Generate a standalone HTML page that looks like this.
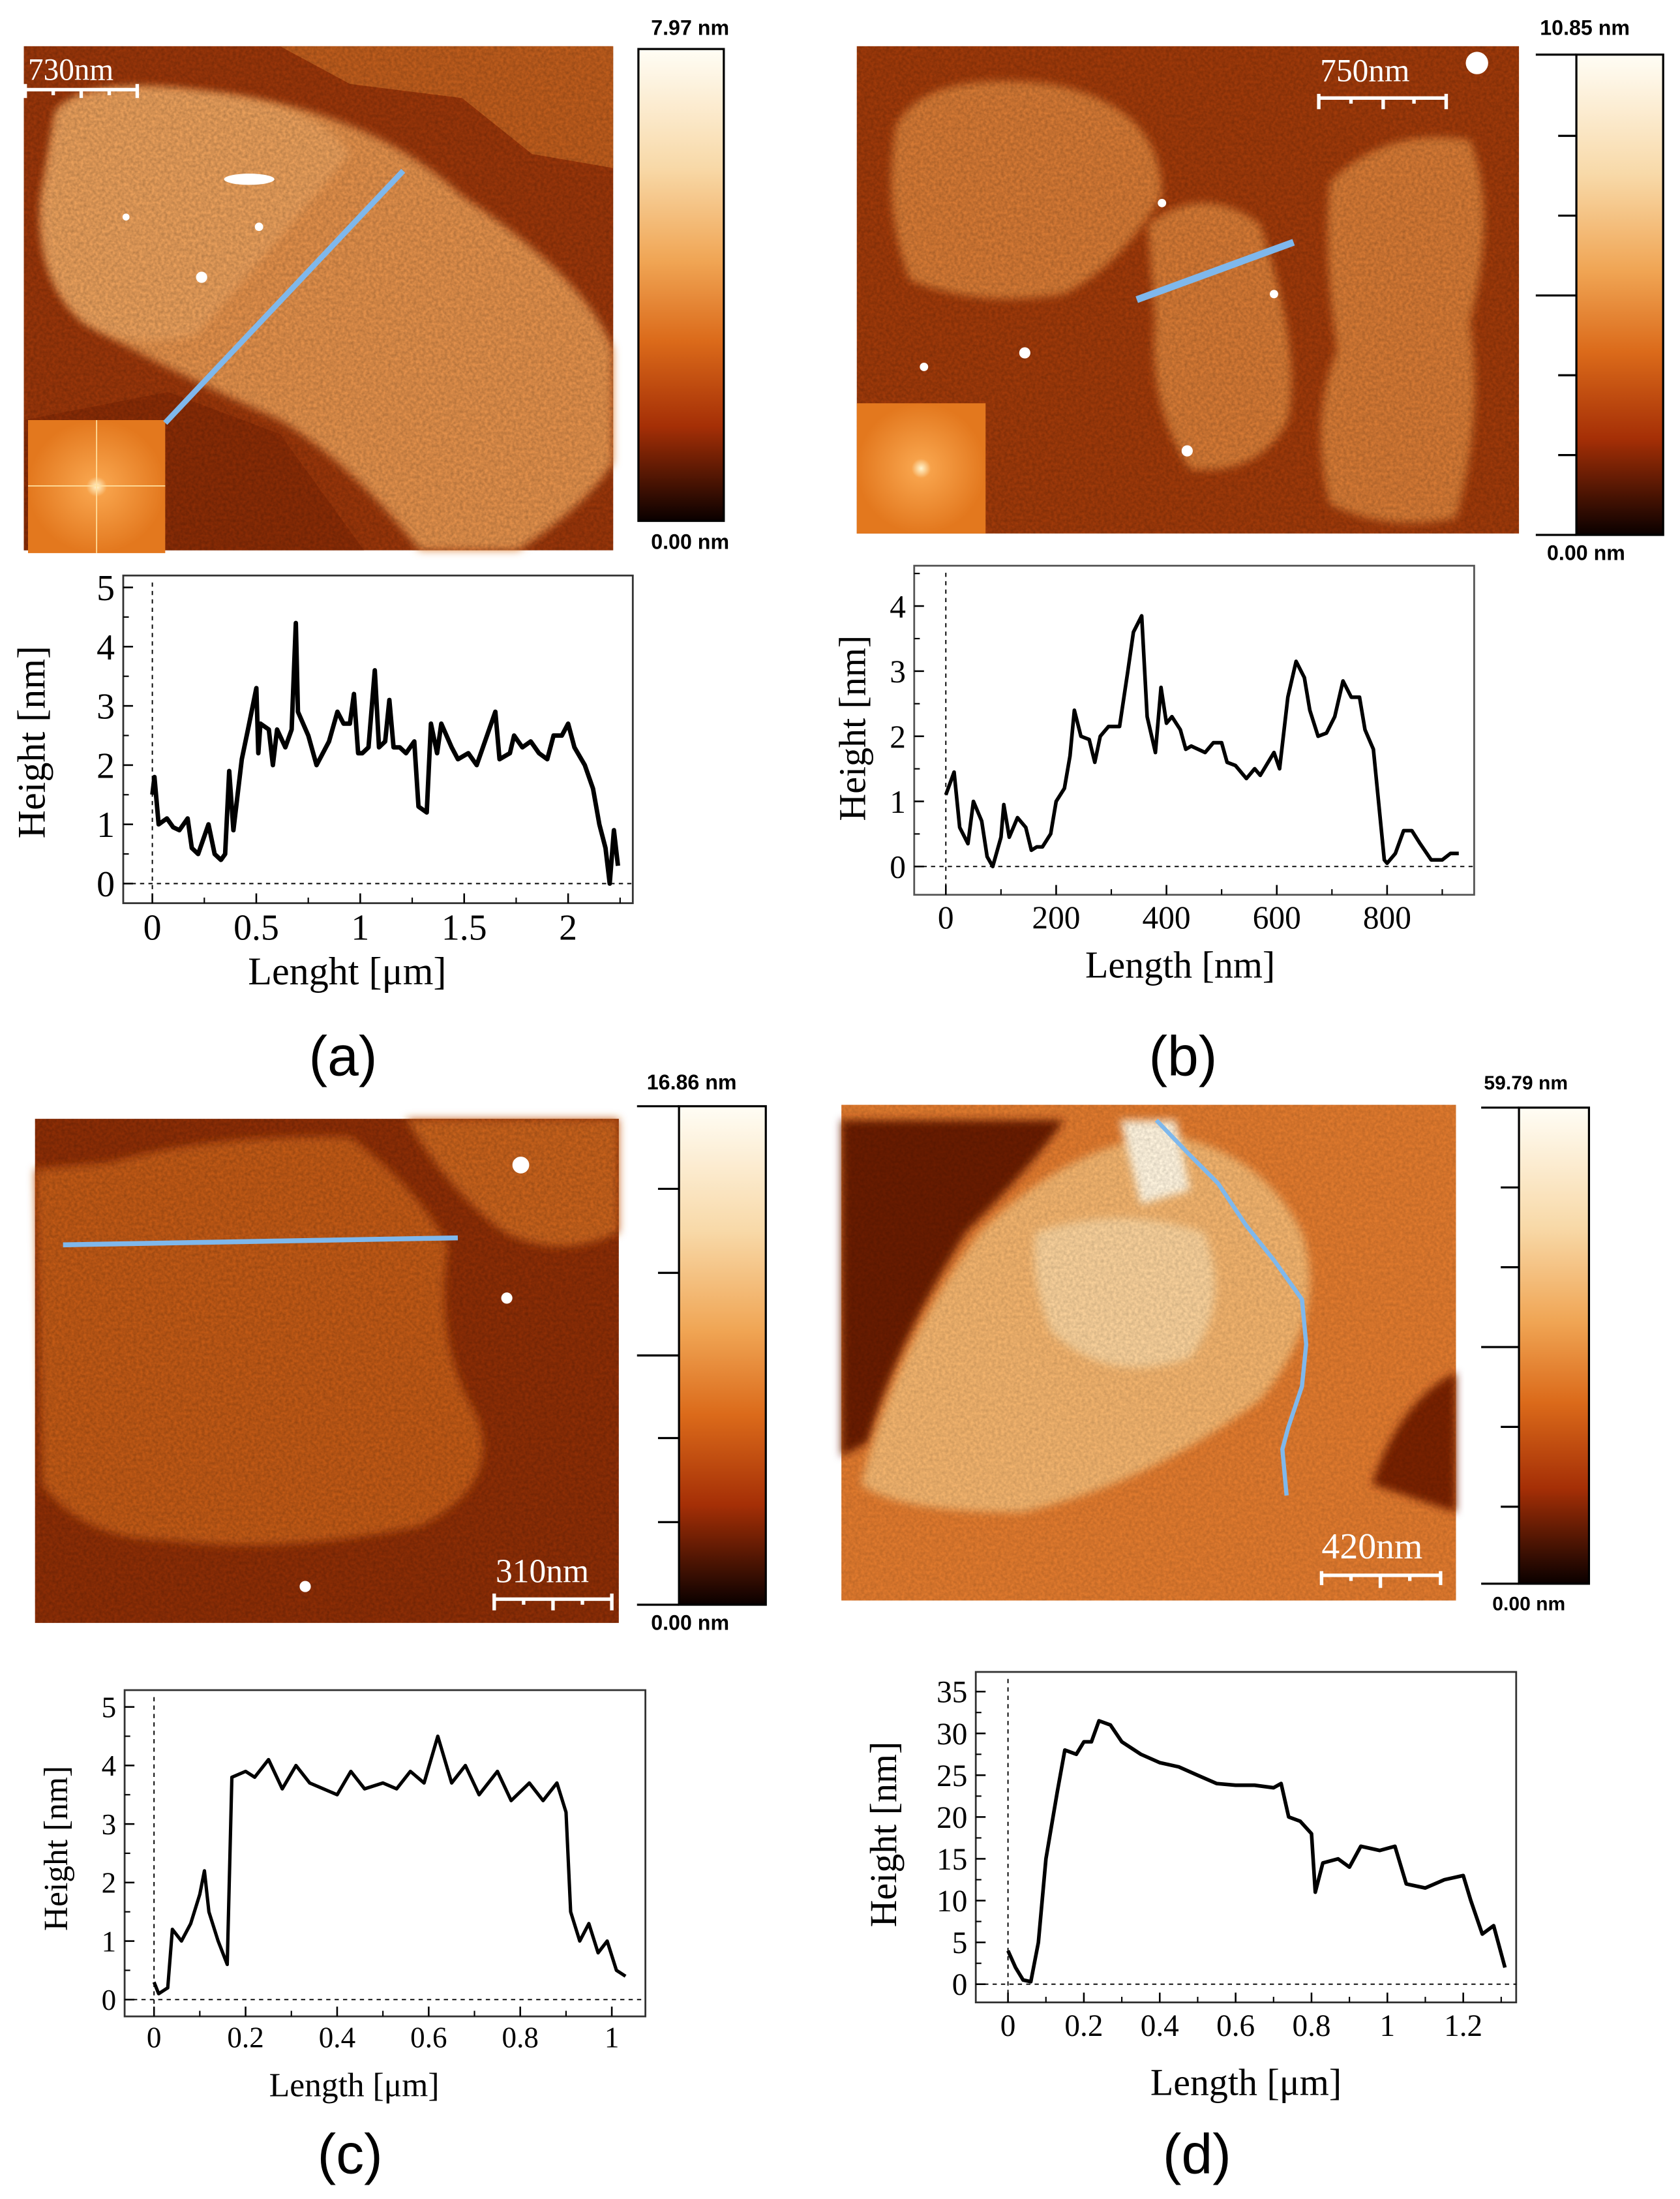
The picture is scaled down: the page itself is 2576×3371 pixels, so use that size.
<!DOCTYPE html>
<html><head><meta charset="utf-8">
<style>
html,body{margin:0;padding:0;background:#fff;}
svg{display:block;}
.tick{font-family:"Liberation Serif",serif;fill:#000;}
.cbl{font-family:"Liberation Sans",sans-serif;font-weight:bold;fill:#000;}
.sb{font-family:"Liberation Serif",serif;fill:#fff;}
.pl{font-family:"Liberation Sans",sans-serif;fill:#000;}
</style></head>
<body>
<svg id="fig" width="2576" height="3371" viewBox="0 0 1200 1570.4" xmlns="http://www.w3.org/2000/svg">
<defs>
<linearGradient id="cb" x1="0" y1="0" x2="0" y2="1">
<stop offset="0" stop-color="#fffdf5"/><stop offset="0.25" stop-color="#f8d9a8"/><stop offset="0.45" stop-color="#f0a554"/>
<stop offset="0.62" stop-color="#db6a1a"/><stop offset="0.8" stop-color="#a52f06"/><stop offset="1" stop-color="#0a0000"/>
</linearGradient>
<filter id="grain" x="0" y="0" width="1" height="1">
<feTurbulence type="fractalNoise" baseFrequency="0.45" numOctaves="2" seed="3"/>
<feColorMatrix values="0 0 0 0 0  0 0 0 0 0  0 0 0 0 0  0 0 0 0.9 -0.2"/>
<feComposite in2="SourceGraphic" operator="in"/>
</filter>
<filter id="blur3"><feGaussianBlur stdDeviation="3"/></filter>
<radialGradient id="fft" cx="0.5" cy="0.5" r="0.5"><stop offset="0" stop-color="#fff6d0"/><stop offset="0.15" stop-color="#f7a24a"/><stop offset="1" stop-color="#e3781e"/></radialGradient>
</defs>

<!-- Panel a image -->
<g>
<rect x="17" y="33" width="421" height="360" fill="#9a360a"/>
<path d="M200,33 L438,33 L438,120 L380,110 L330,70 L250,60 Z" fill="#d9782a" opacity="0.6"/>
<path d="M40,80 Q60,55 140,65 Q260,75 330,140 Q420,200 438,250 L438,330 Q420,360 370,393 L300,393 Q250,330 200,300 Q110,260 60,230 Q25,200 30,140 Z" fill="#e2904c" filter="url(#blur3)"/>
<path d="M40,80 Q60,55 140,65 Q230,75 250,110 Q200,170 140,240 Q90,250 60,230 Q25,200 30,140 Z" fill="#eda663" opacity="0.7" filter="url(#blur3)"/>
<path d="M17,300 L120,280 L200,310 L260,393 L17,393 Z" fill="#8a2c06"/>
<rect x="17" y="33" width="421" height="360" fill="#000" filter="url(#grain)" opacity="0.35"/>
<ellipse cx="178" cy="128" rx="18" ry="4" fill="#fff"/>
<circle cx="144" cy="198" r="4" fill="#fff"/><circle cx="185" cy="162" r="3" fill="#fff"/><circle cx="90" cy="155" r="2.5" fill="#fff"/>
<rect x="20" y="300" width="98" height="95" fill="url(#fft)"/>
<line x1="20" y1="347" x2="118" y2="347" stroke="#ffe0a0" stroke-width="0.8"/><line x1="69" y1="300" x2="69" y2="395" stroke="#ffe0a0" stroke-width="0.8"/>
<line x1="118" y1="302" x2="288" y2="122" stroke="#7fb8ec" stroke-width="4"/>
<g>
<text class="sb" x="20" y="57" font-size="22">730nm</text>
<path d="M18,70 L18,60 M18,64 L98,64 M98,70 L98,60 M38,64 L38,68 M58,64 L58,70 M78,64 L78,68" stroke="#fff" stroke-width="2.5" fill="none"/>
</g>
</g>
<g>
<rect x="456" y="35" width="61" height="337" fill="url(#cb)" stroke="#000" stroke-width="1.5"/>
<text class="cbl" x="465" y="25" font-size="15">7.97 nm</text>
<text class="cbl" x="465" y="392" font-size="15">0.00 nm</text>
</g>

<!-- Panel b image -->
<g>
<rect x="612" y="33" width="473" height="348" fill="#a03a0a"/>
<path d="M640,90 Q660,50 750,60 Q830,75 830,140 Q800,190 760,210 Q700,220 650,200 Q630,150 640,90 Z" fill="#d67a35" filter="url(#blur3)"/>
<path d="M820,160 Q860,130 900,160 Q930,250 920,300 Q900,340 850,335 Q820,290 825,230 Z" fill="#d67a35" filter="url(#blur3)"/>
<path d="M950,130 Q990,90 1050,100 Q1070,150 1050,230 Q1060,300 1040,370 Q990,380 950,360 Q935,300 955,250 Q945,180 950,130 Z" fill="#d67a35" filter="url(#blur3)"/>
<rect x="612" y="33" width="473" height="348" fill="#000" filter="url(#grain)" opacity="0.35"/>
<circle cx="1055" cy="45" r="8" fill="#fff"/><circle cx="732" cy="252" r="4" fill="#fff"/><circle cx="848" cy="322" r="4" fill="#fff"/><circle cx="910" cy="210" r="3" fill="#fff"/><circle cx="830" cy="145" r="3" fill="#fff"/><circle cx="660" cy="262" r="3" fill="#fff"/>
<rect x="612" y="288" width="92" height="93" fill="url(#fft)"/>
<line x1="812" y1="214" x2="924" y2="173" stroke="#7fb8ec" stroke-width="5"/>
<g>
<text class="sb" x="943" y="58" font-size="23">750nm</text>
<path d="M942,78 L942,67 M942,70 L1033,70 M1033,78 L1033,67 M965,70 L965,74 M988,70 L988,78 M1010,70 L1010,74" stroke="#fff" stroke-width="2.5" fill="none"/>
</g>
</g>
<g>
<rect x="1126" y="39" width="62" height="343" fill="url(#cb)" stroke="#000" stroke-width="1.5"/>
<path d="M1097,39 L1126,39 M1113,97 L1126,97 M1113,154 L1126,154 M1097,211 L1126,211 M1113,268 L1126,268 M1113,325 L1126,325 M1097,382 L1126,382" stroke="#000" stroke-width="1.5"/>
<text class="cbl" x="1100" y="25" font-size="15">10.85 nm</text>
<text class="cbl" x="1105" y="400" font-size="15">0.00 nm</text>
</g>

<!-- Panel c image -->
<g>
<rect x="25" y="799" width="417" height="360" fill="#8e2e06"/>
<path d="M25,835 L80,830 Q150,810 250,812 Q300,850 320,890 Q310,960 340,1010 Q360,1060 300,1090 Q200,1110 120,1100 Q60,1100 30,1060 Z" fill="#c25a18" filter="url(#blur3)"/>
<path d="M290,799 L442,799 L442,880 Q400,900 360,880 Q320,850 290,799 Z" fill="#c8621c" filter="url(#blur3)"/>
<rect x="25" y="799" width="417" height="360" fill="#000" filter="url(#grain)" opacity="0.35"/>
<circle cx="218" cy="1133" r="4" fill="#fff"/><circle cx="372" cy="832" r="6" fill="#fff"/><circle cx="362" cy="927" r="4" fill="#fff"/>
<line x1="45" y1="889" x2="327" y2="884" stroke="#7fb8ec" stroke-width="3.5"/>
<g>
<text class="sb" x="354" y="1130" font-size="24">310nm</text>
<path d="M353,1150 L353,1138 M353,1142 L437,1142 M437,1150 L437,1138 M374,1142 L374,1146 M395,1142 L395,1150 M416,1142 L416,1146" stroke="#fff" stroke-width="2.5" fill="none"/>
</g>
</g>
<g>
<rect x="485" y="790" width="62" height="356" fill="url(#cb)" stroke="#000" stroke-width="1.5"/>
<path d="M455,790 L485,790 M470,849 L485,849 M470,909 L485,909 M455,968 L485,968 M470,1027 L485,1027 M470,1087 L485,1087 M455,1146 L485,1146" stroke="#000" stroke-width="1.5"/>
<text class="cbl" x="462" y="778" font-size="15">16.86 nm</text>
<text class="cbl" x="465" y="1164" font-size="15">0.00 nm</text>
</g>

<!-- Panel d image -->
<g>
<rect x="601" y="789" width="439" height="354" fill="#e07a2e"/>
<path d="M601,800 L760,800 Q740,830 690,880 Q640,960 620,1030 L601,1040 Z" fill="#6a1a02" filter="url(#blur3)"/>
<path d="M1040,980 Q1000,1000 980,1060 L1040,1080 Z" fill="#7a2204" filter="url(#blur3)"/>
<path d="M700,880 Q760,820 830,810 Q900,820 930,880 Q950,940 900,1000 Q820,1060 730,1080 Q640,1080 615,1060 Q640,960 700,880 Z" fill="#f2b36d" filter="url(#blur3)"/>
<path d="M740,880 Q800,860 860,880 Q880,930 850,970 Q790,990 750,950 Q735,910 740,880 Z" fill="#f8d09a" filter="url(#blur3)"/>
<path d="M800,800 L840,800 L850,850 L815,860 Z" fill="#fff4de" filter="url(#blur3)"/>
<rect x="601" y="789" width="439" height="354" fill="#000" filter="url(#grain)" opacity="0.25"/>
<polyline points="826,800 850,825 870,845 890,875 910,900 930,928 933,960 930,990 920,1020 916,1035 919,1068" fill="none" stroke="#7fb8ec" stroke-width="3"/>
<g>
<text class="sb" x="944" y="1113" font-size="26">420nm</text>
<path d="M944,1132 L944,1122 M944,1125 L1029,1125 M1029,1132 L1029,1122 M965,1125 L965,1129 M986,1125 L986,1134 M1007,1125 L1007,1129" stroke="#fff" stroke-width="2.5" fill="none"/>
</g>
</g>
<g>
<rect x="1085" y="791" width="50" height="340" fill="url(#cb)" stroke="#000" stroke-width="1.5"/>
<path d="M1058,791 L1085,791 M1072,848 L1085,848 M1072,905 L1085,905 M1058,962 L1085,962 M1072,1019 L1085,1019 M1072,1076 L1085,1076 M1058,1131 L1085,1131" stroke="#000" stroke-width="1.5"/>
<text class="cbl" x="1060" y="778" font-size="14">59.79 nm</text>
<text class="cbl" x="1066" y="1150" font-size="14">0.00 nm</text>
</g>

<text class="pl" x="245" y="768" font-size="40" text-anchor="middle">(a)</text>
<text class="pl" x="845" y="768" font-size="40" text-anchor="middle">(b)</text>
<text class="pl" x="250" y="1552" font-size="40" text-anchor="middle">(c)</text>
<text class="pl" x="855" y="1552" font-size="40" text-anchor="middle">(d)</text>
</svg>

<script>
const aX=[0,0.01,0.03,0.07,0.1,0.13,0.17,0.19,0.22,0.27,0.3,0.33,0.35,0.37,0.39,0.41,0.43,0.46,0.5,0.51,0.52,0.56,0.58,0.6,0.64,0.67,0.69,0.7,0.75,0.79,0.85,0.89,0.92,0.95,0.97,0.99,1.01,1.04,1.07,1.09,1.12,1.14,1.16,1.19,1.22,1.26,1.28,1.32,1.34,1.37,1.39,1.44,1.47,1.52,1.56,1.6,1.65,1.67,1.72,1.74,1.78,1.82,1.86,1.9,1.93,1.97,2.0,2.03,2.08,2.12,2.15,2.18,2.2,2.22,2.24];
const aY=[1.5,1.8,1.0,1.1,0.95,0.9,1.1,0.6,0.5,1.0,0.5,0.4,0.5,1.9,0.9,1.5,2.1,2.6,3.3,2.2,2.7,2.6,2.0,2.6,2.3,2.6,4.4,2.9,2.5,2.0,2.4,2.9,2.7,2.7,3.2,2.2,2.2,2.3,3.6,2.3,2.4,3.1,2.3,2.3,2.2,2.4,1.3,1.2,2.7,2.2,2.7,2.3,2.1,2.2,2.0,2.4,2.9,2.1,2.2,2.5,2.3,2.4,2.2,2.1,2.5,2.5,2.7,2.3,2.0,1.6,1.0,0.6,0.0,0.9,0.3];
const bX=[0,15,25,40,50,65,75,85,100,105,115,130,145,155,165,175,190,200,215,225,233,245,260,270,280,295,315,330,340,355,365,380,390,400,410,425,435,445,470,485,500,510,525,545,560,570,595,605,620,635,650,660,675,690,705,720,735,750,760,775,795,800,815,830,845,860,880,900,915,930];
const bY=[1.1,1.45,0.6,0.35,1.0,0.7,0.15,0.0,0.45,0.95,0.45,0.75,0.6,0.25,0.3,0.3,0.5,1.0,1.2,1.7,2.4,2.0,1.95,1.6,2.0,2.15,2.15,3.0,3.6,3.85,2.3,1.75,2.75,2.2,2.3,2.1,1.8,1.85,1.75,1.9,1.9,1.6,1.55,1.35,1.5,1.4,1.75,1.5,2.6,3.15,2.9,2.4,2.0,2.05,2.3,2.85,2.6,2.6,2.1,1.8,0.1,0.05,0.2,0.55,0.55,0.35,0.1,0.1,0.2,0.2];
const cX=[0,0.01,0.03,0.04,0.06,0.08,0.1,0.11,0.12,0.14,0.16,0.17,0.2,0.22,0.25,0.28,0.31,0.34,0.37,0.4,0.43,0.46,0.5,0.53,0.56,0.59,0.62,0.65,0.68,0.71,0.75,0.78,0.82,0.85,0.88,0.9,0.91,0.93,0.95,0.97,0.99,1.01,1.03];
const cY=[0.3,0.1,0.2,1.2,1.0,1.3,1.8,2.2,1.5,1.0,0.6,3.8,3.9,3.8,4.1,3.6,4.0,3.7,3.6,3.5,3.9,3.6,3.7,3.6,3.9,3.7,4.5,3.7,4.0,3.5,3.9,3.4,3.7,3.4,3.7,3.2,1.5,1.0,1.3,0.8,1.0,0.5,0.4];
const dX=[0,0.02,0.04,0.06,0.08,0.1,0.13,0.15,0.18,0.2,0.22,0.24,0.27,0.3,0.35,0.4,0.45,0.5,0.55,0.6,0.65,0.7,0.72,0.74,0.77,0.8,0.81,0.83,0.87,0.9,0.93,0.98,1.02,1.05,1.1,1.15,1.2,1.22,1.25,1.28,1.31];
const dY=[4,2,0.5,0.3,5,15,23,28,27.5,29,29,31.5,31,29,27.5,26.5,26,25,24,23.8,23.8,23.5,24,20,19.5,18,11,14.5,15,14,16.5,16,16.5,12,11.5,12.5,13,10,6,7,2];
const aTicks=["0","0.5","1","1.5","2"], aYT=["0","1","2","3","4","5"];
const bTicks=["0","200","400","600","800"], bYT=["0","1","2","3","4"];
const cTicks=["0","0.2","0.4","0.6","0.8","1"], cYT=["0","1","2","3","4","5"];
const dTicks=["0","0.2","0.4","0.6","0.8","1","1.2"], dYT=["0","5","10","15","20","25","30","35"];

const NS="http://www.w3.org/2000/svg", fig=document.getElementById('fig');
function mk(tag,attrs,parent){const e=document.createElementNS(NS,tag);for(const k in attrs)e.setAttribute(k,attrs[k]);(parent||fig).appendChild(e);return e;}

function plot(o){
  const g=mk('g',{});
  
  
  const sx=v=>o.x0+(v-o.xmin)*o.kx, sy=v=>o.y0-(v-o.ymin)*o.ky;
  const fr=mk('rect',{x:o.fl,y:o.ft,width:o.fr-o.fl,height:o.fb-o.ft,fill:'none',stroke:o.frameColor||'#333','stroke-width':1.3},g);
  
  
  mk('line',{x1:sx(0),x2:sx(0),y1:o.ft+5,y2:o.fb,stroke:'#000','stroke-width':0.9,'stroke-dasharray':'3,3'},g);
  mk('line',{x1:o.fl,x2:o.fr,y1:sy(0),y2:sy(0),stroke:'#000','stroke-width':0.9,'stroke-dasharray':'3,3'},g);
  const xt=mk('g',{},g);
  
  
  o.xt.forEach(t=>{const v=parseFloat(t),x=sx(v);
    mk('line',{x1:x,x2:x,y1:o.fb,y2:o.fb-7,stroke:'#000','stroke-width':1.2},xt);
    const m=sx(v+o.xstep/2); if(m<o.fr-2) mk('line',{x1:m,x2:m,y1:o.fb,y2:o.fb-4,stroke:'#000','stroke-width':1},xt);
    const tx=mk('text',{x:x,y:o.fb+o.xlo,'font-size':o.fs,'text-anchor':'middle',class:'tick'},xt);tx.textContent=t;
    
    });
  const yt=mk('g',{},g);
  
  
  o.yt.forEach(t=>{const v=parseFloat(t),y=sy(v);
    mk('line',{x1:o.fl,x2:o.fl+7,y1:y,y2:y,stroke:'#000','stroke-width':1.2},yt);
    const m=sy(v+o.ystep/2); if(m>o.ft+2) mk('line',{x1:o.fl,x2:o.fl+4,y1:m,y2:m,stroke:'#000','stroke-width':1},yt);
    const tx=mk('text',{x:o.fl-6,y:y+o.fs*0.35,'font-size':o.fs,'text-anchor':'end',class:'tick'},yt);tx.textContent=t;
    
    });
  const d=o.X.map((v,i)=>(i?'L':'M')+sx(v).toFixed(1)+','+sy(o.Y[i]).toFixed(1)).join(' ');
  const p=mk('path',{d:d,fill:'none',stroke:'#000','stroke-width':o.lw,'stroke-linejoin':'round'},g);
  
  
  const xl=mk('text',{x:o.xlx,y:o.xly,'font-size':o.tfs,'text-anchor':'middle',class:'tick'},g);xl.textContent=o.xlabel;
  
  
  const yl=mk('text',{x:0,y:0,'font-size':o.tfs,'text-anchor':'middle',class:'tick',transform:`translate(${o.ylx},${o.yly}) rotate(-90)`},g);yl.textContent='Height [nm]';
  
  
}
plot({name:'profile-plot-a',X:aX,Y:aY,xt:aTicks,yt:aYT,xstep:0.5,ystep:1,xmin:0,ymin:0,x0:108.8,kx:148.5,y0:631,ky:42.3,fl:88,fr:452,ft:411,fb:645,fs:26,xlo:26,lw:3.2,tfs:28,xlabel:'Lenght [μm]',xlx:248,xly:703,ylx:32,yly:530});
plot({name:'profile-plot-b',X:bX,Y:bY,xt:bTicks,yt:bYT,xstep:200,ystep:1,xmin:0,ymin:0,x0:675.6,kx:0.394,y0:618.8,ky:46.5,fl:653,fr:1053,ft:404,fb:639,fs:23,xlo:24,lw:2.6,tfs:27,xlabel:'Length [nm]',xlx:843,xly:698,ylx:618,yly:520,frameColor:'#555'});
plot({name:'profile-plot-c',X:cX,Y:cY,xt:cTicks,yt:cYT,xstep:0.2,ystep:1,xmin:0,ymin:0,x0:110,kx:327,y0:1428,ky:41.8,fl:89,fr:461,ft:1207,fb:1440,fs:21,xlo:22,lw:2.4,tfs:24,xlabel:'Length [μm]',xlx:253,xly:1497,ylx:48,yly:1320});
plot({name:'profile-plot-d',X:dX,Y:dY,xt:dTicks,yt:dYT,xstep:0.2,ystep:5,xmin:0,ymin:0,x0:720,kx:271,y0:1417,ky:5.97,fl:697,fr:1083,ft:1194,fb:1430,fs:22,xlo:24,lw:2.6,tfs:27,xlabel:'Length [μm]',xlx:890,xly:1496,ylx:640,yly:1310});
</script>
</body></html>
